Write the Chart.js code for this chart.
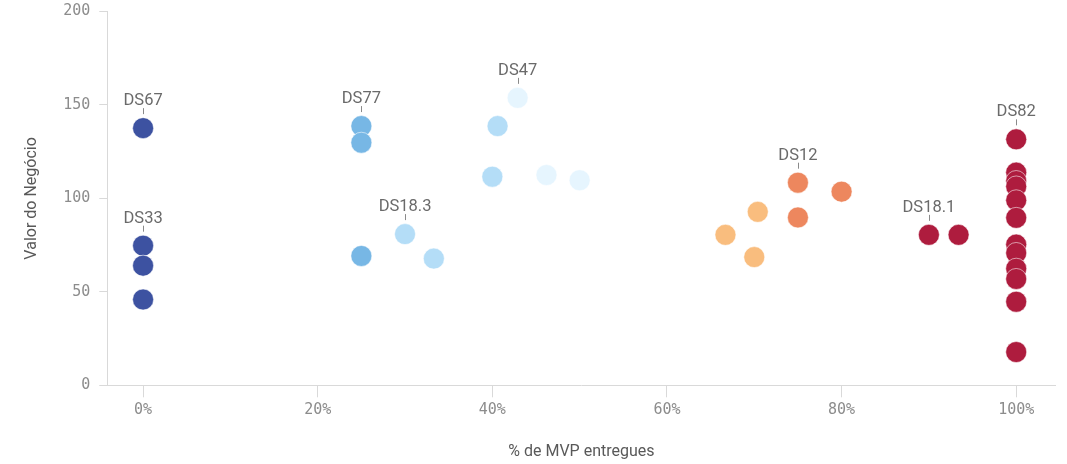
<!DOCTYPE html>
<html>
<head>
<meta charset="utf-8">
<script src="https://cdn.jsdelivr.net/npm/chart.js@4"></script>
<style>
  html, body { margin: 0; padding: 0; background: #fff; }
  #wrap { width: 1067px; height: 464px; }
</style>
</head>
<body>
<div id="wrap"><canvas id="chart"></canvas></div>
<script>
// ---- data (% MVP entregues, Valor do Negócio) ----
const darkBlueX   = [0, 0, 0, 0];
const darkBlueY   = [137.6, 74.7, 64.0, 45.9];
const darkBlueTag = ["DS67", "DS33", "", ""];

const midBlueX   = [25, 25, 25];
const midBlueY   = [138.7, 129.8, 69.2];
const midBlueTag = ["DS77", "", ""];

const lightBlueX   = [30.0, 33.3, 40.6, 40.0];
const lightBlueY   = [80.9, 67.8, 138.7, 111.6];
const lightBlueTag = ["DS18.3", "", "", ""];

const paleBlueX   = [42.9, 46.2, 50.0];
const paleBlueY   = [153.8, 112.5, 109.7];
const paleBlueTag = ["DS47", "", ""];

const lightOrangeX   = [66.7, 70.4, 70.0];
const lightOrangeY   = [80.5, 92.8, 68.6];
const lightOrangeTag = ["", "", ""];

const orangeX   = [75, 75, 80];
const orangeY   = [108.4, 89.8, 103.6];
const orangeTag = ["DS12", "", ""];

const crimsonX   = [90, 93.4, 100, 100, 100, 100, 100, 100, 100, 100, 100, 100, 100, 100];
const crimsonY   = [80.5, 80.5, 131.6, 113.8, 109.3, 106.4, 99.0, 89.6, 75.3, 70.8, 62.4, 56.9, 44.7, 17.8];
const crimsonTag = ["DS18.1", "", "DS82", "", "", "", "", "", "", "", "", "", "", ""];

const xTicks = [0, 20, 40, 60, 80, 100];
const yTicks = [0, 50, 100, 150, 200];

// ---- build datasets ----
function makeSet(xs, ys, tags, color) {
  return {
    data: xs.map((x, i) => ({ x: x, y: ys[i] })),
    tags: tags,
    backgroundColor: color,
    borderColor: "rgba(255,255,255,0.55)",
    borderWidth: 1,
    pointRadius: 10.5,
    pointHoverRadius: 10.5
  };
}

const datasets = [
  makeSet(darkBlueX, darkBlueY, darkBlueTag, "#3d52a1"),
  makeSet(midBlueX, midBlueY, midBlueTag, "#77b7e5"),
  makeSet(lightBlueX, lightBlueY, lightBlueTag, "#b4ddf7"),
  makeSet(paleBlueX, paleBlueY, paleBlueTag, "#e6f5fe"),
  makeSet(lightOrangeX, lightOrangeY, lightOrangeTag, "#f9bd7e"),
  makeSet(orangeX, orangeY, orangeTag, "#ed875e"),
  makeSet(crimsonX, crimsonY, crimsonTag, "#ae1c3e")
];

// labels above the tagged points, with a small leader line
const pointTags = {
  id: "pointTags",
  afterDatasetsDraw(chart) {
    const ctx = chart.ctx;
    ctx.save();
    ctx.font = "16.5px Roboto";
    ctx.textAlign = "center";
    ctx.textBaseline = "alphabetic";
    chart.data.datasets.forEach((ds, di) => {
      const meta = chart.getDatasetMeta(di);
      meta.data.forEach((pt, i) => {
        const tag = ds.tags[i];
        if (!tag) return;
        ctx.strokeStyle = "#8a8a8a";
        ctx.lineWidth = 1;
        ctx.beginPath();
        ctx.moveTo(Math.round(pt.x) + 0.5, pt.y - 20);
        ctx.lineTo(Math.round(pt.x) + 0.5, pt.y - 14);
        ctx.stroke();
        ctx.fillStyle = "#6a6a6a";
        ctx.fillText(tag, pt.x, pt.y - 23);
      });
    });
    ctx.restore();
  }
};

const tickFont = { family: "'DejaVu Sans Mono', monospace", size: 15 };
const titleFont = { family: "Roboto", size: 16 };

new Chart(document.getElementById("chart"), {
  type: "scatter",
  data: { datasets: datasets },
  options: {
    responsive: true,
    maintainAspectRatio: false,
    animation: false,
    events: [],
    layout: { padding: { top: 10, right: 2, bottom: 0, left: 0 } },
    plugins: { legend: { display: false }, tooltip: { enabled: false } },
    scales: {
      x: {
        type: "linear",
        min: -4.1,
        max: 104.5,
        afterBuildTicks: s => { s.ticks = xTicks.map(v => ({ value: v })); },
        ticks: {
          font: tickFont,
          color: "#8c8c8c",
          padding: 4,
          callback: v => v + "%"
        },
        grid: { drawOnChartArea: false, drawTicks: true, tickLength: 12, color: "#d9d9d9" },
        border: { display: true, color: "#d9d9d9" },
        title: {
          display: true,
          text: "% de MVP entregues",
          font: titleFont,
          color: "#595959",
          padding: { top: 19.5, bottom: 2 }
        }
      },
      y: {
        type: "linear",
        min: 0,
        max: 200,
        afterBuildTicks: s => { s.ticks = yTicks.map(v => ({ value: v })); },
        afterFit: s => { s.paddingTop = 0; },
        ticks: { font: tickFont, color: "#8c8c8c", padding: 9 },
        grid: { drawOnChartArea: false, drawTicks: true, tickLength: 8, color: "#d9d9d9" },
        border: { display: true, color: "#d9d9d9" },
        title: {
          display: true,
          text: "Valor do Negócio",
          font: titleFont,
          color: "#595959",
          padding: { top: 22, bottom: 13 }
        }
      }
    }
  },
  plugins: [pointTags]
});
</script>
</body>
</html>
